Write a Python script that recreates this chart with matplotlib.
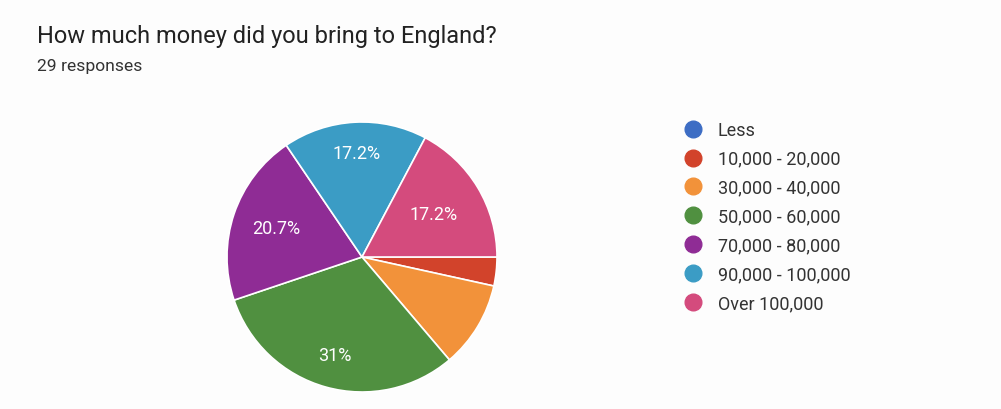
import math
import matplotlib
matplotlib.use('Agg')
import matplotlib.pyplot as plt
from matplotlib.lines import Line2D

plt.rcParams['font.family'] = ['Roboto', 'DejaVu Sans']

title = 'How much money did you bring to England?'
subtitle = '29 responses'

categories = ['Less', '10,000 - 20,000', '30,000 - 40,000', '50,000 - 60,000',
              '70,000 - 80,000', '90,000 - 100,000', 'Over 100,000']
counts = [0, 1, 3, 9, 6, 5, 5]
colors = ['#3d6dc4', '#d2432b', '#f2923a', '#509040', '#8f2c95', '#3b9cc5', '#d44b7d']

# how far out each percentage label sits (fraction of the radius)
label_radius = [0.7, 0.7, 0.7, 0.75, 0.67, 0.77, 0.62]


def pct_label(p):
    # slices that are too small get no label
    if p < 15:
        return ''
    s = f'{p:.1f}'
    if s.endswith('.0'):
        s = s[:-2]
    return s + '%'


fig = plt.figure(figsize=(10.01, 4.10), dpi=100)
fig.patch.set_facecolor('#fdfdfd')

fig.text(37 / 1001, 1 - 36 / 410, title, fontsize=17.0, color='#222222', va='center')
fig.text(37 / 1001, 1 - 67 / 410, subtitle, fontsize=12.6, color='#333333', va='center')

# pie centred at roughly (362, 258) px, radius 135 px
ax = fig.add_axes([227 / 1001, 17 / 410, 270 / 1001, 270 / 410])
wedges, texts, autotexts = ax.pie(
    counts, colors=colors, startangle=0, counterclock=False,
    autopct=pct_label, pctdistance=0.7,
    wedgeprops=dict(edgecolor='white', linewidth=1.2),
    textprops=dict(color='white', fontsize=13),
)
for w, t, r in zip(wedges, autotexts, label_radius):
    mid = math.radians((w.theta1 + w.theta2) / 2)
    t.set_position((r * math.cos(mid), r * math.sin(mid)))
ax.set_xlim(-1, 1)
ax.set_ylim(-1, 1)
ax.set_aspect('equal')
ax.axis('off')

handles = [Line2D([], [], marker='o', linestyle='', markersize=12,
                  markerfacecolor=c, markeredgecolor=c) for c in colors]
fig.legend(handles, categories, loc='upper left',
           bbox_to_anchor=(685 / 1001, 1 - 122 / 410),
           frameon=False, fontsize=13, labelcolor='#333333',
           handlelength=0.9, handletextpad=0.9, labelspacing=0.6,
           borderaxespad=0, borderpad=0)

fig.savefig('out.png', dpi=100, facecolor=fig.get_facecolor())
